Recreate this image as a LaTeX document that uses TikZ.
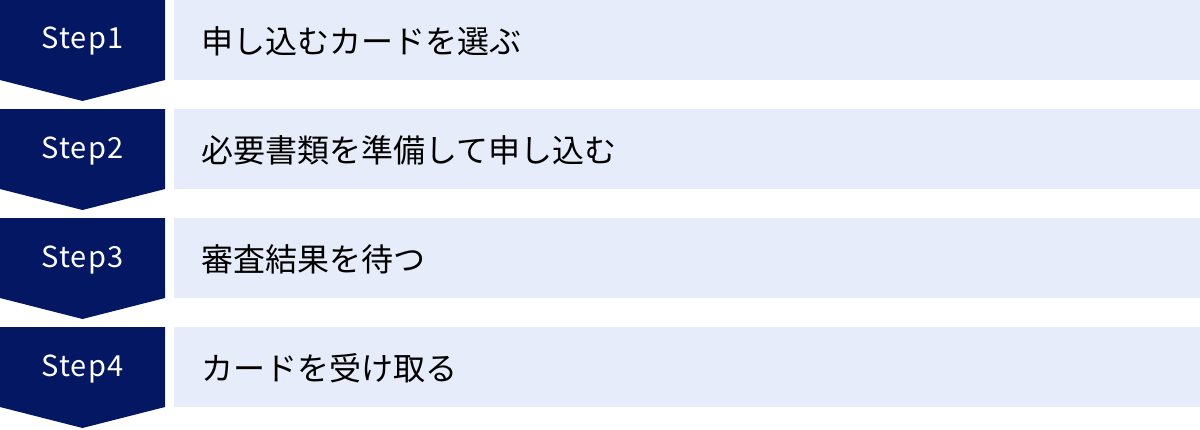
\documentclass[tikz,border=0pt]{standalone}
\usepackage{fontspec}
\setmainfont{Noto Sans CJK JP}
\newfontfamily\stepfont[LetterSpace=4]{Noto Sans CJK JP}
\definecolor{navy}{HTML}{041762}
\definecolor{pale}{HTML}{E6ECF9}
\begin{document}
\begin{tikzpicture}[x=1pt,y=-1pt,
  stepshape/.style={fill=navy,draw=none},
  barshape/.style={fill=pale,draw=none},
  steplabel/.style={text=white,font=\stepfont\fontsize{29}{32}\selectfont,anchor=center,inner sep=0pt},
  barlabel/.style={text=black,font=\fontsize{32}{36}\selectfont,anchor=west,inner sep=0pt}]
\useasboundingbox (0,0) rectangle (1200,429);
\foreach \i/\t [count=\k from 0] in {1/申し込むカードを選ぶ,2/必要書類を準備して申し込む,3/審査結果を待つ,4/カードを受け取る}{
  \pgfmathsetmacro{\yy}{\k*109}
  \fill[stepshape] (0,\yy) -- (165,\yy) -- (165,\yy+80) -- (82.5,\yy+101) -- (0,\yy+80) -- cycle;
  \fill[barshape] (174,\yy) rectangle (1200,\yy+80);
  \node[steplabel] (s\i) at (82.5,\yy+41.5) {Step\i};
  \node[barlabel] (b\i) at (201,\yy+41) {\t};
}
\end{tikzpicture}
\end{document}
